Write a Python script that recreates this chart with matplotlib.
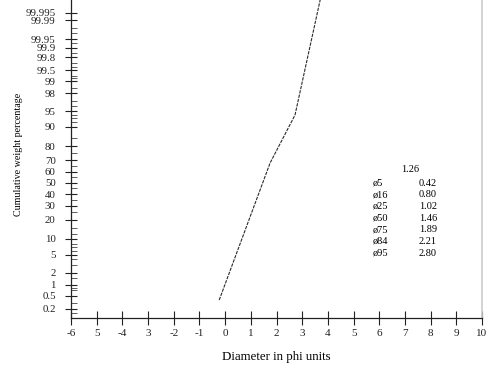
import numpy as np
import matplotlib
matplotlib.use("Agg")
import matplotlib.pyplot as plt
from statistics import NormalDist

plt.rcParams['font.family'] = ['Liberation Serif', 'DejaVu Serif']

# cumulative curve
phi = [-0.23, 1.75, 2.72, 3.70]
cum_pct = [0.37, 67.6, 94.0, 99.9986]

ytick_vals = [0.2, 0.5, 1, 2, 5, 10, 20, 30, 40, 50, 60, 70, 80, 90, 95, 98,
              99, 99.5, 99.8, 99.9, 99.95, 99.99, 99.995, 99.999]
ytick_labels = ['0.2', '0.5', '1', '2', '5', '10', '20', '30', '40', '50', '60',
                '70', '80', '90', '95', '98', '99', '99.5', '99.8', '99.9',
                '99.95', '99.99', '99.995', '99.999']
yminor_vals = [0.15, 0.3, 0.7, 0.8, 1.5, 3, 4, 6, 7, 8, 12, 15, 25, 35, 45, 55,
               65, 75, 85, 92, 93, 94, 96, 97, 98.5, 99.2, 99.3, 99.6, 99.7,
               99.85, 99.93, 99.97, 99.98]
xtick_vals = list(range(-6, 11))
xtick_labels = ['-6', '5', '-4', '3', '-2', '-1', '0', '1', '2', '3', '4', '5',
                '6', '7', '8', '9', '10']

stats_header = '1.26'
stats_labels = ['ø5', 'ø16', 'ø25', 'ø50', 'ø75', 'ø84', 'ø95']
stats_values = ['0.42', '0.80', '1.02', '1.46', '1.89', '2.21', '2.80']

nd = NormalDist()
_ppf = np.vectorize(nd.inv_cdf, otypes=[float])
_cdf = np.vectorize(nd.cdf, otypes=[float])


def fwd(p):
    p = np.clip(np.asarray(p, dtype=float) / 100.0, 1e-12, 1 - 1e-12)
    return _ppf(p)


def inv(z):
    return _cdf(np.asarray(z, dtype=float)) * 100.0


W, H = 495, 376
fig = plt.figure(figsize=(W / 100, H / 100), dpi=100)
ax = fig.add_axes([71 / W, (H - 318) / H, (482 - 71) / W, (318 + 3.4) / H])

ax.plot(phi, cum_pct, color='#2a2a2a', lw=0.8, ls=(0, (3, 1)))

ax.set_yscale('function', functions=(fwd, inv))
ax.set_ylim(0.1, 99.999)
ax.set_xlim(-6, 10)

ax.set_yticks(ytick_vals)
ax.set_yticklabels(ytick_labels)
ax.set_yticks(yminor_vals, minor=True)
ax.set_xticks(xtick_vals)
ax.set_xticklabels(xtick_labels)

ax.tick_params(axis='y', which='major', direction='inout', length=8, width=0.8,
               labelsize=7.8, pad=7, colors='#222222')
ax.tick_params(axis='y', which='minor', direction='in', length=4, width=0.6,
               colors='#444444')
ax.tick_params(axis='x', which='major', direction='inout', length=10, width=0.8,
               labelsize=8, pad=3, colors='#222222')

for s in ['left', 'bottom']:
    ax.spines[s].set_linewidth(0.9)
    ax.spines[s].set_color('#222222')
ax.spines['right'].set_color('#cccccc')
ax.spines['right'].set_linewidth(1.2)
ax.spines['top'].set_visible(False)

ax.set_xlabel('Diameter in phi units', fontsize=9.3)
ax.xaxis.set_label_coords(0.5, -(351 - 318) / 321.4)
ax.set_ylabel('Cumulative weight percentage', fontsize=7.2)
ax.yaxis.set_label_coords(-(71 - 23) / 411, (318 - 154) / 321.4)

# phi statistics block
fig.text(410 / W, 1 - 170 / H, stats_header, fontsize=7.5, ha='center', va='center')
for i, (lab, val) in enumerate(zip(stats_labels, stats_values)):
    yy = 1 - (183 + 11.7 * i) / H
    fig.text(373 / W, yy, lab, fontsize=7.5, ha='left', va='center')
    fig.text(437 / W, yy, val, fontsize=7.5, ha='right', va='center')

fig.savefig('out.png', dpi=100)
